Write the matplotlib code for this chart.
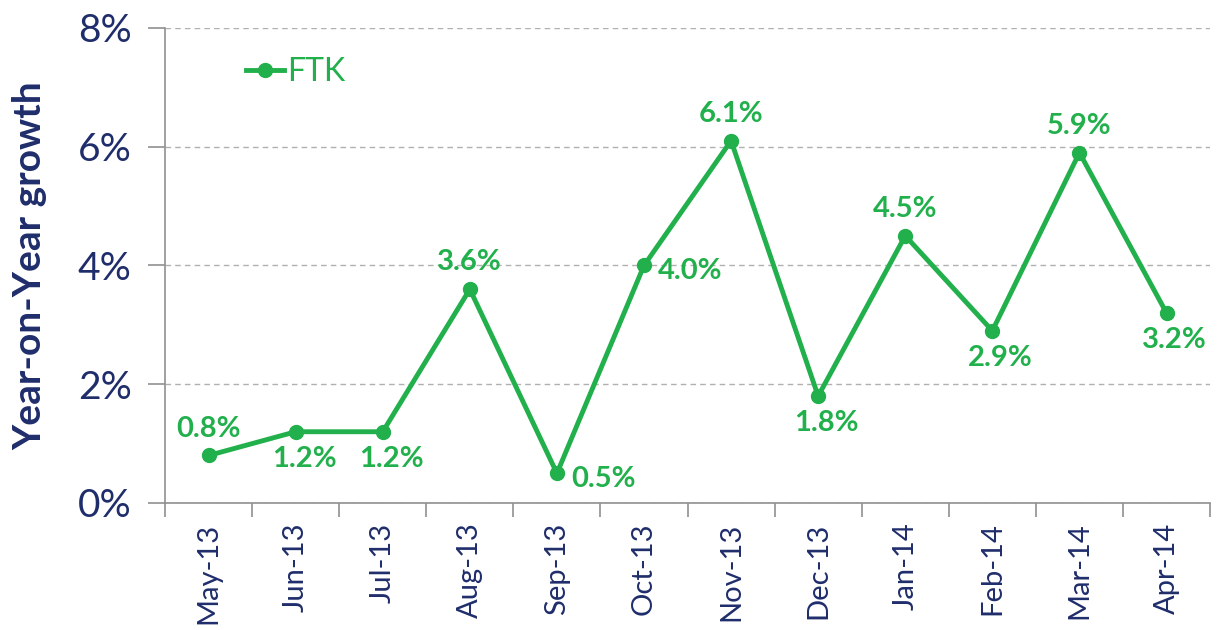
import matplotlib
matplotlib.use("Agg")
import matplotlib.pyplot as plt
from matplotlib.ticker import FuncFormatter

categories = ["May-13", "Jun-13", "Jul-13", "Aug-13", "Sep-13", "Oct-13",
              "Nov-13", "Dec-13", "Jan-14", "Feb-14", "Mar-14", "Apr-14"]
ftk = [0.8, 1.2, 1.2, 3.6, 0.5, 4.0, 6.1, 1.8, 4.5, 2.9, 5.9, 3.2]
label_pos = ["above", "below", "below", "above", "right", "right",
             "above", "below", "above", "below", "above", "below"]

green = "#21b04b"
navy = "#1f2d6b"
plt.rcParams['font.family'] = ['Lato', 'DejaVu Sans']

fig = plt.figure(figsize=(12.26, 6.3), dpi=100)
ax = fig.add_axes([0.1346, 0.2016, 0.8524, 0.754])

x = list(range(len(categories)))
ax.plot(x, ftk, color=green, lw=3.5, marker='o', ms=10, label="FTK", zorder=3)

for xi, v, p in zip(x, ftk, label_pos):
    txt = f"{v:.1f}%"
    if p == "above":
        ax.annotate(txt, (xi, v), xytext=(0, 10), textcoords='offset points',
                    ha='center', va='bottom', color=green, fontsize=21, fontweight='bold')
    elif p == "below":
        ax.annotate(txt, (xi, v), xytext=(6, -10), textcoords='offset points',
                    ha='center', va='top', color=green, fontsize=21, fontweight='bold')
    else:
        ax.annotate(txt, (xi, v), xytext=(10, -4), textcoords='offset points',
                    ha='left', va='center', color=green, fontsize=21, fontweight='bold')

ax.set_xlim(-0.5, len(categories) - 0.5)
ax.set_ylim(0, 8)
ax.set_yticks([0, 2, 4, 6, 8])
ax.yaxis.set_major_formatter(FuncFormatter(lambda v, _: f"{v:.0f}%"))
ax.grid(axis='y', color='#b0b0b0', ls=(0, (4, 3)), lw=1)
ax.set_axisbelow(True)

ax.set_xticks(x)
ax.set_xticklabels(categories, rotation=90, fontsize=21, color=navy)
ax.tick_params(axis='x', which='major', length=0, pad=14)
ax.set_xticks([i - 0.5 for i in range(len(categories) + 1)], minor=True)
ax.tick_params(axis='x', which='minor', length=10, color='#909090', width=1.2)
ax.tick_params(axis='y', labelsize=28, labelcolor=navy, length=12, color='#909090', width=1.2, pad=12)

for s in ['top', 'right']:
    ax.spines[s].set_visible(False)
for s in ['left', 'bottom']:
    ax.spines[s].set_color('#909090')
    ax.spines[s].set_linewidth(1.2)

ax.set_ylabel("Year-on-Year growth", fontsize=28, fontweight='bold', color=navy, labelpad=22)

leg = ax.legend(loc='upper left', bbox_to_anchor=(0.065, 0.965), frameon=False,
                fontsize=23, handlelength=1.2, handletextpad=0.1, borderaxespad=0)
for t in leg.get_texts():
    t.set_color(green)

fig.savefig("out.png", dpi=100)
